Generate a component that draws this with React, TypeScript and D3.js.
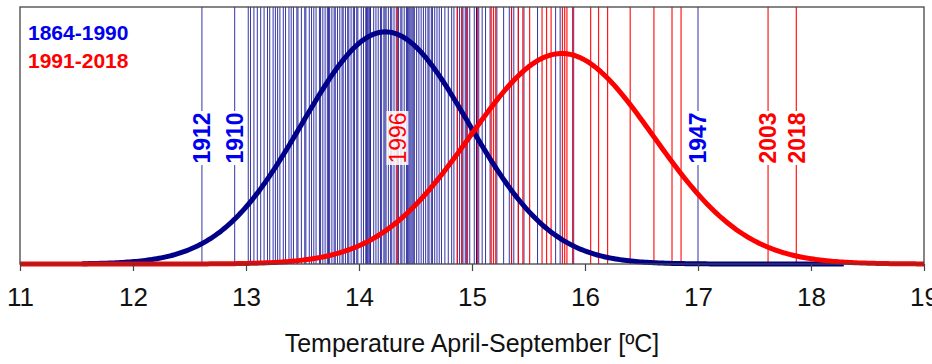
import { useEffect, useRef } from 'react';
import * as d3 from 'd3';

// Summer (April-September) mean temperatures, one value per year
const TEMPS_1864_1990 = [
  12.61, 12.90,
  13.02, 13.04, 13.07, 13.10, 13.13, 13.16, 13.19, 13.21, 13.24,
  13.26, 13.28, 13.30, 13.33, 13.35, 13.38, 13.40, 13.42, 13.45, 13.46, 13.49,
  13.52, 13.53, 13.56, 13.58, 13.60, 13.62, 13.65, 13.66, 13.68, 13.70, 13.72, 13.73, 13.74,
  13.76, 13.78, 13.79, 13.81, 13.83, 13.85, 13.86, 13.88, 13.90, 13.91, 13.93, 13.95, 13.96, 13.98, 13.99,
  14.02, 14.04, 14.06, 14.07, 14.07, 14.08, 14.09, 14.10, 14.10, 14.13, 14.15, 14.17, 14.19, 14.20, 14.22, 14.23, 14.24,
  14.26, 14.28, 14.29, 14.31, 14.33, 14.35, 14.37, 14.38, 14.40, 14.42, 14.43, 14.44, 14.45, 14.46, 14.47, 14.48, 14.49,
  14.51, 14.53, 14.55, 14.57, 14.59, 14.61, 14.62, 14.64, 14.65, 14.67, 14.69, 14.71, 14.73,
  14.76, 14.79, 14.82, 14.84, 14.87, 14.89, 14.91, 14.92, 14.94, 14.95, 14.98,
  15.02, 15.04, 15.04, 15.06, 15.09, 15.12, 15.16, 15.22,
  15.28, 15.33, 15.35, 15.37, 15.41, 15.46,
  15.58, 15.74, 15.78, 15.90, 17.00,
];

const TEMPS_1991_2018 = [
  14.34, 14.87, 14.91, 14.96, 15.05, 15.17, 15.19, 15.21, 15.35, 15.41,
  15.45, 15.51, 15.62, 15.66, 15.70, 15.80, 15.82, 15.84, 15.89, 16.05,
  16.12, 16.20, 16.40, 16.61, 16.77, 16.85, 17.62, 17.87,
];

const LABELS = [
  { year: '1912', temp: 12.61, period: 'old' },
  { year: '1910', temp: 12.90, period: 'old' },
  { year: '1996', temp: 14.34, period: 'new' },
  { year: '1947', temp: 17.00, period: 'old' },
  { year: '2003', temp: 17.62, period: 'new' },
  { year: '2018', temp: 17.87, period: 'new' },
];

const X_TICKS = [11, 12, 13, 14, 15, 16, 17, 18, 19];
const OLD_CURVE_RANGE = [11.55, 18.3];
const NEW_CURVE_RANGE = [11, 19];

const FONT = '"Liberation Sans", Arial, sans-serif';

export default function App() {
  const svgRef = useRef<SVGSVGElement>(null);

  useEffect(() => {
    if (!svgRef.current) return;
    const width = 932;
    const height = 364;
    const margin = { top: 7, right: 8, bottom: 100, left: 20 };
    const innerW = width - margin.left - margin.right;
    const innerH = height - margin.top - margin.bottom;

    const svg = d3.select(svgRef.current);
    svg.selectAll('*').remove();

    const g = svg.append('g').attr('transform', `translate(${margin.left},${margin.top})`);

    const x = d3.scaleLinear().domain([11, 19]).range([0, innerW]);
    const y = d3.scaleLinear().domain([0, 0.6]).range([innerH, 0]);

    // normal density fitted to each period
    const density = (values: number[]) => {
      const m = d3.mean(values) || 0;
      const s = d3.deviation(values) || 1;
      return (t: number) => Math.exp(-0.5 * ((t - m) / s) ** 2) / (s * Math.sqrt(2 * Math.PI));
    };

    // year lines
    g.selectAll('.old-year')
      .data(TEMPS_1864_1990)
      .enter()
      .append('line')
      .attr('x1', d => x(d))
      .attr('x2', d => x(d))
      .attr('y1', 0)
      .attr('y2', innerH)
      .attr('stroke', '#000090')
      .attr('stroke-opacity', 0.8)
      .attr('stroke-width', 1);

    g.selectAll('.new-year')
      .data(TEMPS_1991_2018)
      .enter()
      .append('line')
      .attr('x1', d => x(d))
      .attr('x2', d => x(d))
      .attr('y1', 0)
      .attr('y2', innerH)
      .attr('stroke', '#ff0000')
      .attr('stroke-opacity', 0.9)
      .attr('stroke-width', 1.2);

    // curves
    const line = d3.line<number>().x(t => x(t)).curve(d3.curveLinear);
    const drawCurve = (values: number[], range: number[], color: string) => {
      const f = density(values);
      const pts = d3.range(range[0], range[1] + 0.0001, 0.02);
      g.append('path')
        .datum(pts)
        .attr('fill', 'none')
        .attr('stroke', color)
        .attr('stroke-width', 5)
        .attr('stroke-linejoin', 'round')
        .attr('d', line.y(t => y(f(t))));
    };
    drawCurve(TEMPS_1864_1990, OLD_CURVE_RANGE, '#000088');
    drawCurve(TEMPS_1991_2018, NEW_CURVE_RANGE, '#ff0000');

    // frame
    g.append('rect')
      .attr('x', 0)
      .attr('y', 0)
      .attr('width', innerW)
      .attr('height', innerH)
      .attr('fill', 'none')
      .attr('stroke', '#444')
      .attr('stroke-width', 1.3);

    // year labels
    const labelY = 131;
    LABELS.forEach(l => {
      const lg = g.append('g').attr('transform', `translate(${x(l.temp)},${labelY}) rotate(-90)`);
      lg.append('rect')
        .attr('x', -27)
        .attr('y', -11)
        .attr('width', 54)
        .attr('height', 22)
        .attr('fill', '#fff')
        .attr('fill-opacity', l.year === '1996' ? 0.85 : 1);
      lg.append('text')
        .attr('text-anchor', 'middle')
        .attr('dy', '0.36em')
        .style('font-family', FONT)
        .style('font-size', '23px')
        .style('font-weight', l.year === '1996' ? 'normal' : 'bold')
        .attr('fill', l.period === 'old' ? '#0000ee' : '#ff0000')
        .text(l.year);
    });

    // legend
    g.append('text')
      .attr('x', 8)
      .attr('y', 33)
      .style('font-family', FONT)
      .style('font-size', '21px')
      .style('font-weight', 'bold')
      .attr('fill', '#0000ee')
      .text('1864-1990');
    g.append('text')
      .attr('x', 8)
      .attr('y', 61)
      .style('font-family', FONT)
      .style('font-size', '21px')
      .style('font-weight', 'bold')
      .attr('fill', '#ff0000')
      .text('1991-2018');

    // x axis
    const axis = g.append('g')
      .attr('transform', `translate(0,${innerH})`)
      .call(d3.axisBottom(x).tickValues(X_TICKS).tickSize(7).tickPadding(17).tickFormat(d3.format('d')));
    axis.select('.domain').remove();
    axis.selectAll('line').attr('stroke', '#444').attr('stroke-width', 1.2);
    axis.selectAll('text')
      .style('font-family', FONT)
      .style('font-size', '26px')
      .attr('fill', '#111');

    g.append('text')
      .attr('x', innerW / 2)
      .attr('y', innerH + 88)
      .attr('text-anchor', 'middle')
      .style('font-family', FONT)
      .style('font-size', '25px')
      .attr('fill', '#111')
      .text('Temperature April-September [ºC]');
  }, []);

  return (
    <svg
      ref={svgRef}
      width={932}
      height={364}
      style={{ position: 'absolute', left: 0, top: 0, background: '#fff' }}
    />
  );
}
